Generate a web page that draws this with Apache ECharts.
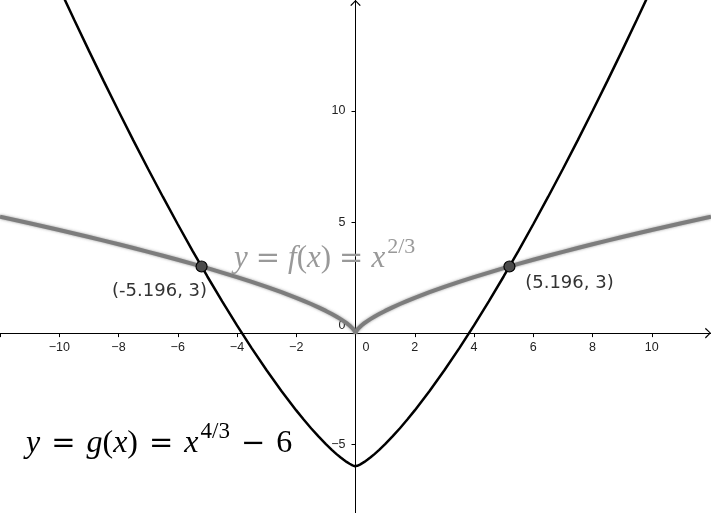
<!DOCTYPE html>
<html><head><meta charset="utf-8">
<script src="https://cdn.jsdelivr.net/npm/echarts@6/dist/echarts.min.js"></script>
<style>html,body{margin:0;padding:0;background:#fff}#c{width:711px;height:513px}</style>
</head><body><div id="c"></div>
<script>
// sampled x positions (right half; curves are symmetric about the y-axis)
const xPos = [0,0.01,0.03,0.06,0.1,0.15,0.2,0.3,0.4,0.5,0.65,0.8,1,1.25,1.5,1.75,2,2.5,3,3.5,4,4.5,5,5.5,6,6.5,7,7.5,8,8.5,9,9.5,10,11,12];
// y = f(x) = x^(2/3)  (grey curve)
const fVals = [0,0.0464,0.0966,0.1532,0.2154,0.2823,0.342,0.4481,0.5429,0.63,0.7504,0.8618,1,1.1604,1.3104,1.4522,1.5874,1.842,2.0801,2.3052,2.5198,2.7257,2.924,3.1158,3.3019,3.483,3.6593,3.8312,4,4.1649,4.3267,4.4858,4.6416,4.9461,5.2415];
// y = g(x) = x^(4/3) - 6  (black curve)
const gVals = [-6,-5.9978,-5.9907,-5.9765,-5.9536,-5.9203,-5.883,-5.7992,-5.7053,-5.6031,-5.4369,-5.2573,-5,-4.6535,-4.2829,-3.8911,-3.4802,-2.607,-1.6733,-0.6861,0.3496,1.4294,2.5499,3.7082,4.9027,6.131,7.3905,8.678,10,11.346,12.7203,14.122,15.5443,18.464,21.473];
// intersection points
const pointsX = [-5.196, 5.196];
const pointsY = [3, 3];
const pointLabels = ['(-5.196, 3)', '(5.196, 3)'];
// axis ticks / labels
const xTickLabels = [-10,-8,-6,-4,-2,0,2,4,6,8,10];
const yTickLabels = [-5,0,5,10];
const yTicks = [-5,5,10];

const X_MIN = -12, X_MAX = 12, Y_MIN = -8.1, Y_MAX = 15;
const W = 711, H = 513;

function mirror(xs, ys){
  const out = [];
  for (let i = xs.length - 1; i > 0; i--) out.push([-xs[i], ys[i]]);
  for (let i = 0; i < xs.length; i++) out.push([xs[i], ys[i]]);
  return out;
}
const fData = mirror(xPos, fVals);
const gData = mirror(xPos, gVals);

// axes cross at the origin: offset each axis from its grid edge to the zero line
const xAxisOffset = -(H * (0 - Y_MIN) / (Y_MAX - Y_MIN));
const yAxisOffset = -(W * (0 - X_MIN) / (X_MAX - X_MIN));

const chevron = 'path://M0,6 L6,0 L12,6 L10.8,6.8 L6,1.6 L1.2,6.8 Z';
const minus = v => String(v).replace('-', '\u2212');

const chart = echarts.init(document.getElementById('c'), null, {renderer:'canvas'});
const serifI = {fontFamily:'Liberation Serif', fontStyle:'italic'};
const serifN = {fontFamily:'Liberation Serif', fontStyle:'normal'};
function mathRich(size, color, pad){
  return {
    i: Object.assign({fontSize:size, fill:color}, serifI),
    n: Object.assign({fontSize:size, fill:color}, serifN),
    o: {fontSize:Math.round(size*0.92), fill:color, padding:[0,pad,0,pad], fontFamily:'DejaVu Serif', fontWeight:'normal'},
    s: Object.assign({fontSize:Math.round(size*0.72), fill:color, padding:[0,0,Math.round(size*0.78),2]}, serifN)
  };
}
const tickFont = {fontSize:12.5, fontFamily:'Liberation Sans', color:'#222'};
chart.setOption({
  animation:false,
  backgroundColor:'#fff',
  grid:{left:0,right:0,top:0,bottom:0,containLabel:false,outerBoundsMode:'none'},
  xAxis:{
    type:'value', min:X_MIN, max:X_MAX, interval:2, position:'bottom', offset:xAxisOffset,
    axisLine:{onZero:false, lineStyle:{color:'#000', width:1}, symbol:['none', chevron], symbolSize:[11,6], symbolOffset:[0,-3]},
    axisTick:{show:true, inside:false, length:4, lineStyle:{color:'#000'}},
    axisLabel:Object.assign({
      customValues:xTickLabels, margin:8,
      formatter: v => v === 0 ? '{z|0}' : minus(v),
      rich:{z:Object.assign({padding:[0,0,0,21]}, tickFont)}
    }, tickFont),
    splitLine:{show:false}
  },
  yAxis:{
    type:'value', min:Y_MIN, max:Y_MAX, position:'left', offset:yAxisOffset,
    axisLine:{onZero:false, lineStyle:{color:'#000', width:1}, symbol:['none', chevron], symbolSize:[11,6], symbolOffset:[0,-3]},
    axisTick:{show:true, customValues:yTicks, inside:false, length:4, lineStyle:{color:'#000'}},
    axisLabel:Object.assign({
      customValues:yTickLabels, margin:10,
      formatter: v => v === 0 ? '{z|0}' : minus(v),
      rich:{z:Object.assign({padding:[0,0,16,0]}, tickFont)}
    }, tickFont),
    splitLine:{show:false}
  },
  series:[
    {type:'line', data:fData, showSymbol:false, z:2, clip:true,
     lineStyle:{color:'#7d7d7d', width:4, shadowBlur:3, shadowColor:'rgba(110,110,110,0.7)'}},
    {type:'line', data:gData, showSymbol:false, z:3, clip:true,
     lineStyle:{color:'#000', width:2.5}},
    {type:'scatter', z:5, symbolSize:11,
     itemStyle:{color:'#4a4a4a', borderColor:'#000', borderWidth:1.2, opacity:1},
     data:[
       {value:[pointsX[0], pointsY[0]], label:{show:true, position:'inside', offset:[-42,25], formatter:pointLabels[0]}},
       {value:[pointsX[1], pointsY[1]], label:{show:true, position:'inside', offset:[60,17], formatter:pointLabels[1]}}
     ],
     label:{fontFamily:'DejaVu Sans', fontSize:18, color:'#333'}
    }
  ],
  graphic:[
    {type:'text', left:234, top:236, z:10,
     style:{text:'{i|y}{o|=}{i|f}{n|(}{i|x}{n|)}{o|=}{i|x}{s|2/3}', rich:mathRich(31,'#999999',8)}},
    {type:'text', left:26, top:420, z:10,
     style:{text:'{i|y}{o|=}{i|g}{n|(}{i|x}{n|)}{o|=}{i|x}{s|4/3}{o|\u2212}{n|6}', rich:mathRich(32,'#000000',11)}}
  ]
});
</script>
</body></html>
